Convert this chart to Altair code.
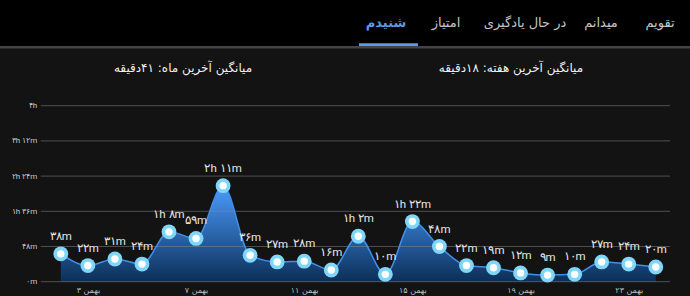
import altair as alt
import pandas as pd

# ---- data ----
days = ["۲ بهمن", "۳ بهمن", "۴ بهمن", "۵ بهمن", "۶ بهمن", "۷ بهمن", "۸ بهمن", "۹ بهمن",
        "۱۰ بهمن", "۱۱ بهمن", "۱۲ بهمن", "۱۳ بهمن", "۱۴ بهمن", "۱۵ بهمن", "۱۶ بهمن",
        "۱۷ بهمن", "۱۸ بهمن", "۱۹ بهمن", "۲۰ بهمن", "۲۱ بهمن", "۲۲ بهمن", "۲۳ بهمن", "۲۴ بهمن"]
minutes = [38, 22, 31, 24, 68, 59, 131, 36, 27, 28, 16, 62, 10, 82, 48, 22, 19, 12, 9, 10, 27, 24, 20]
x_ticks = ["۳ بهمن", "۷ بهمن", "۱۱ بهمن", "۱۵ بهمن", "۱۹ بهمن", "۲۳ بهمن"]
y_ticks = [0, 48, 96, 144, 192, 240]
tabs = ["تقویم", "میدانم", "در حال یادگیری", "امتیاز", "شنیدم"]
active_tab = "شنیدم"
subtitle_month = "میانگین آخرین ماه: ۴۱دقیقه"
subtitle_week = "میانگین آخرین هفته: ۱۸دقیقه"

FA = str.maketrans("0123456789", "۰۱۲۳۴۵۶۷۸۹")


def fa_dur(m):
    h, r = divmod(m, 60)
    if h and r:
        s = f"{h}h {r}m"
    elif h:
        s = f"{h}h"
    else:
        s = f"{r}m"
    return s.translate(FA)


df = pd.DataFrame({"day": days, "min": minutes, "label": [fa_dur(m) for m in minutes]})
grid_df = pd.DataFrame({"min": y_ticks})
one = pd.DataFrame({"a": [0]})

W, H = 629.3, 176
PL, PT = 40.7, 105.7

y_label_expr = "[" + ",".join("'" + fa_dur(v) + "'" for v in y_ticks) + "][round(datum.value/48)]"

xenc = alt.X("day:O", sort=days,
             scale=alt.Scale(type="point", range=[6.6, 628.6]),
             axis=alt.Axis(values=x_ticks, labelAngle=0, title=None, ticks=False, domain=False,
                           labelColor="#bdbdbd", labelFontSize=8, labelPadding=5,
                           labelOverlap=False, labelFont="DejaVu Sans", grid=False))
yenc = alt.Y("min:Q", scale=alt.Scale(domain=[0, 240], nice=False),
             axis=alt.Axis(values=y_ticks, labelExpr=y_label_expr, title=None, ticks=False,
                           domain=False, grid=False, labelColor="#c8c8c8", labelFontSize=8,
                           labelOverlap=False, labelBound=False, labelFlush=False,
                           labelPadding=4, labelFont="Roboto"))

base = alt.Chart(df).encode(x=xenc, y=yenc)

area = base.mark_area(
    interpolate="monotone",
    color=alt.Gradient(gradient="linear",
                       stops=[alt.GradientStop(color="#0c2f57", offset=0),
                              alt.GradientStop(color="#4a9cff", offset=1)],
                       x1=1, x2=1, y1=1, y2=0),
)
line = base.mark_line(interpolate="monotone", color="#3f8fec", strokeWidth=1.5)

grid = alt.Chart(grid_df).mark_rule(color="#8a8a8a", opacity=0.5, strokeWidth=1).encode(
    y=yenc, x=alt.value(0), x2=alt.value(W))

outer = base.mark_circle(size=220, color="#80d6f8", opacity=1)
inner = base.mark_circle(size=55, color="#ffffff", opacity=1)
labels = base.mark_text(dy=-17, fontSize=11.5, color="#e6e6e6", font="Roboto",
                        baseline="middle").encode(text="label:N")

# ---- header / layout decorations ----
header_bg = alt.Chart(one).mark_rect(color="#000000").encode(
    x=alt.value(-PL), x2=alt.value(690 - PL), y=alt.value(-PT), y2=alt.value(46 - PT))
sep = alt.Chart(one).mark_rect(color="#444444").encode(
    x=alt.value(-PL), x2=alt.value(690 - PL), y=alt.value(46 - PT), y2=alt.value(48.5 - PT))
underline = alt.Chart(one).mark_rect(color="#5b9be0").encode(
    x=alt.value(359 - PL), x2=alt.value(418 - PL), y=alt.value(43.3 - PT), y2=alt.value(46 - PT))

tab_x = {"تقویم": 660, "میدانم": 601, "در حال یادگیری": 525, "امتیاز": 446, "شنیدم": 386}
tab_layers = []
for t in tabs:
    tab_layers.append(alt.Chart(one).mark_text(
        fontSize=13, font="DejaVu Sans", baseline="middle", align="center",
        color="#5b9be0" if t == active_tab else "#c4c4c4",
        fontWeight="bold" if t == active_tab else "normal").encode(
        x=alt.value(tab_x[t] - PL), y=alt.value(23 - PT), text=alt.value(t)))

sub1 = alt.Chart(one).mark_text(fontSize=12, font="DejaVu Sans", color="#f0f0f0",
                                baseline="middle", align="center").encode(
    x=alt.value(183 - PL), y=alt.value(68 - PT), text=alt.value(subtitle_month))
sub2 = alt.Chart(one).mark_text(fontSize=12, font="DejaVu Sans", color="#f0f0f0",
                                baseline="middle", align="center").encode(
    x=alt.value(511 - PL), y=alt.value(68 - PT), text=alt.value(subtitle_week))

chart = alt.layer(
    header_bg, sep, underline, *tab_layers, sub1, sub2,
    area, grid, line, outer, inner, labels
).properties(
    width=W, height=H,
    autosize=alt.AutoSizeParams(type="none"),
    padding={"left": PL, "top": PT, "right": 690 - PL - W, "bottom": 296 - PT - H},
    background="#131313",
).configure_view(strokeWidth=0).configure_axis(labelOverlap=False)

chart.save("out.html", embed_options={"renderer": "svg", "actions": False})
